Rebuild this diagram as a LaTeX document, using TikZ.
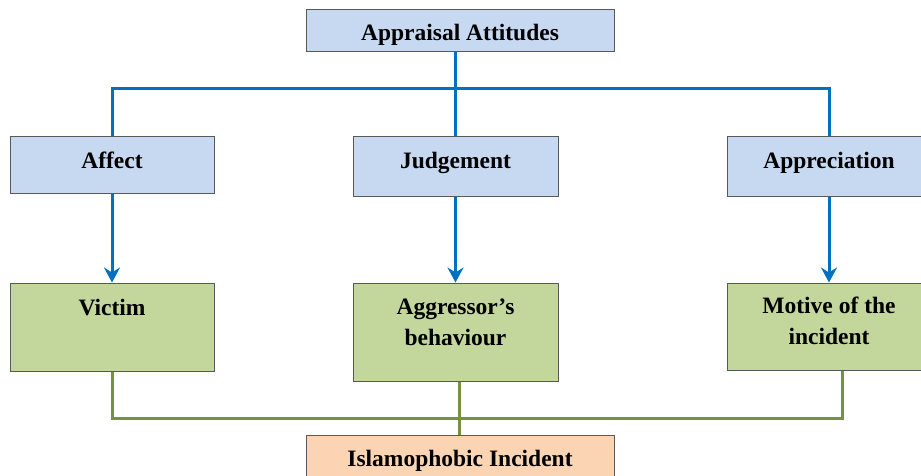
\documentclass[tikz,border=0pt]{standalone}
\usepackage{fontspec}
\setmainfont{Liberation Serif}
\usetikzlibrary{arrows.meta}

\definecolor{topblue}{RGB}{198,217,240}
\definecolor{midgreen}{RGB}{195,214,155}
\definecolor{lowpeach}{RGB}{251,212,180}
\definecolor{lineblue}{RGB}{0,112,192}
\definecolor{linegreen}{RGB}{118,146,60}

\begin{document}
\begin{tikzpicture}[x=1pt,y=-1pt,
    box/.style={draw=black!65,line width=1pt,inner sep=0pt,align=center,
      font=\bfseries\fontsize{23.5}{31}\selectfont},
    attbox/.style={box,fill=topblue},
    aspectbox/.style={box,fill=midgreen},
    eventbox/.style={box,fill=lowpeach},
    blueline/.style={draw=lineblue,line width=3pt},
    bluearrow/.style={blueline,-{Stealth[length=15pt,width=16pt,inset=5pt]}},
    greenline/.style={draw=linegreen,line width=3pt}]
  \useasboundingbox (0,0) rectangle (921,476);

  % draw attitude boxes
  \node[attbox,minimum width=308,minimum height=42,text height=25pt,text depth=5pt] (appraisal) at (460,31) {Appraisal Attitudes};
  \node[attbox,minimum width=204,minimum height=56,text depth=9pt] (affect) at (112,165) {Affect};
  \node[attbox,minimum width=205,minimum height=59,text depth=13pt] (judge) at (455.5,166.5) {Judgement};
  \node[attbox,minimum width=204,minimum height=59,text depth=13pt] (apprec) at (829,166.5) {Appreciation};

  % draw targets
  \node[aspectbox,minimum width=204,minimum height=88] (victim) at (112,327) {Victim\\ \strut};
  \node[aspectbox,minimum width=205,minimum height=98,text depth=19pt] (aggressor) at (455.5,332) {Aggressor’s\\behaviour};
  \node[aspectbox,minimum width=204,minimum height=87,text depth=11pt] (motive) at (829,326.5) {Motive of the\\incident};

  \node[eventbox,minimum width=308,minimum height=42,text height=26pt,text depth=5pt] (incident) at (460,456) {Islamophobic Incident};

  % blue branches
  \coordinate (topbus) at (455.5,89);
  \draw[blueline] (appraisal.south -| judge) -- (judge.north);
  \draw[blueline] (affect.north) |- (topbus) -| (apprec.north);

  % arrows
  \draw[bluearrow] (affect) -- (victim);
  \draw[bluearrow] (judge) -- (aggressor);
  \draw[bluearrow] (apprec) -- (motive);

  % green branches
  \coordinate (lowbus) at (459,418);
  \draw[greenline] (victim.south) |- (lowbus) -| ([xshift=13]motive.south);
  \draw[greenline] ([xshift=3.5]aggressor.south) -- ([xshift=3.5]aggressor.south |- incident.north);
\end{tikzpicture}
\end{document}
